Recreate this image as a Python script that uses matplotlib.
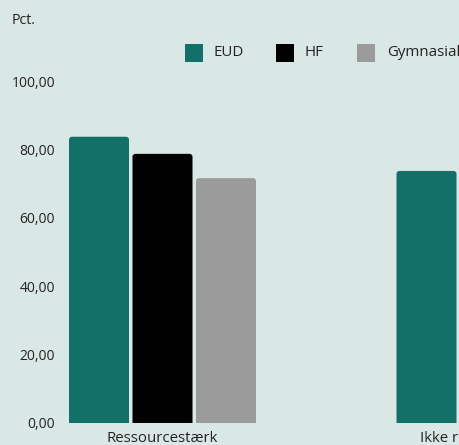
import numpy as np
import matplotlib
matplotlib.use("Agg")
import matplotlib.pyplot as plt
from matplotlib.patches import FancyBboxPatch, Rectangle

plt.rcParams['font.family'] = ['Open Sans', 'DejaVu Sans']

categories = ["Ressourcestærk", "Ikke ressourcestærk"]
series = ["EUD", "HF", "Gymnasial"]
values = {
    "EUD": [83.7, 73.7],
    "HF": [78.7, np.nan],
    "Gymnasial": [71.6, np.nan],
}
colors = {"EUD": "#117068", "HF": "#000000", "Gymnasial": "#9b9b9b"}
yticks = [0, 20, 40, 60, 80, 100]
ytick_labels = ["0,00", "20,00", "40,00", "60,00", "80,00", "100,00"]

bg = "#dae8e5"
W, H = 460, 445
fig = plt.figure(figsize=(W / 100, H / 100), dpi=100, facecolor=bg)

# axes extends beyond the right edge of the figure (reference is cropped)
ax_left_px, ax_right_px = 62, 720
ax_top_px, ax_bot_px = 81, 423
ax = fig.add_axes([ax_left_px / W, 1 - ax_bot_px / H,
                   (ax_right_px - ax_left_px) / W, (ax_bot_px - ax_top_px) / H])
ax.set_facecolor(bg)

group_px = 327.5
bar_w = 60 / group_px
step = 63.5 / group_px
center0_px = 162.5

x = np.arange(len(categories))
ax.set_xticks(x)
ax.set_xticklabels(categories, fontsize=10.8, color="#222222")
ax.set_yticks(yticks)
ax.set_yticklabels(ytick_labels, fontsize=10, color="#222222")
ax.set_xlim(-(center0_px - ax_left_px) / group_px, (ax_right_px - center0_px) / group_px)
ax.set_ylim(0, 100)

px_per_x = group_px
px_per_y = (ax_bot_px - ax_top_px) / 100
aspect = px_per_x / px_per_y
r = 3 / group_px
for i, s in enumerate(series):
    offs = (i - 1) * step
    for xi, v in zip(x, values[s]):
        if np.isnan(v):
            continue
        p = FancyBboxPatch((xi + offs - bar_w / 2, -3), bar_w, v + 3,
                           boxstyle=f"round,pad=0,rounding_size={r}",
                           mutation_aspect=aspect,
                           facecolor=colors[s], edgecolor="none")
        ax.add_patch(p)

ax.tick_params(axis="both", length=0)
ax.tick_params(axis="x", pad=6)
ax.tick_params(axis="y", pad=5)
for sp in ax.spines.values():
    sp.set_visible(False)

fig.text(12 / W, 1 - 21 / H, "Pct.", fontsize=10.3, color="#222222", va="center", ha="left")

leg = [("EUD", 185, 214), ("HF", 276, 305), ("Gymnasial", 357, 387)]
for name, sx, tx in leg:
    fig.add_artist(Rectangle((sx / W, 1 - 62 / H), 18 / W, 18 / H,
                             transform=fig.transFigure, facecolor=colors[name],
                             edgecolor="none"))
    fig.text(tx / W, 1 - 53 / H, name, fontsize=10.8, color="#222222",
             va="center", ha="left")

fig.savefig("out.png", dpi=100, facecolor=bg)
